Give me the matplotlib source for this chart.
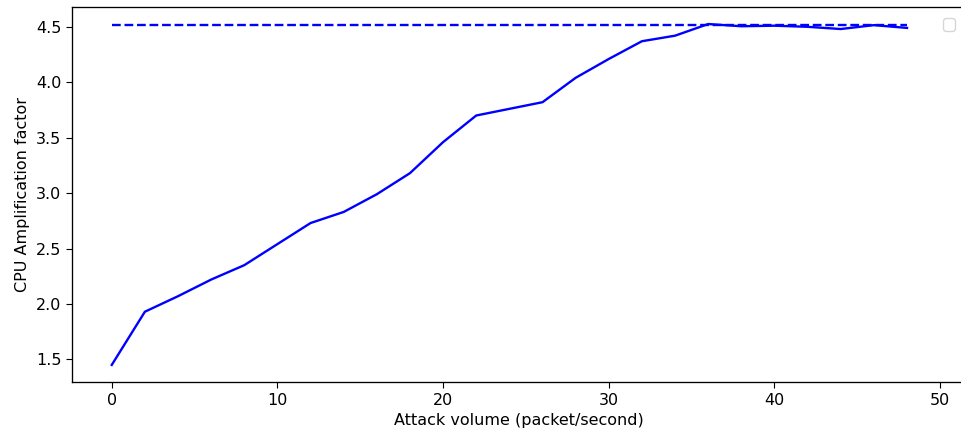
import matplotlib
matplotlib.use("Agg")
import matplotlib.pyplot as plt

plt.rcParams["font.size"] = 11.5
plt.rcParams["xtick.major.size"] = 4.2
plt.rcParams["ytick.major.size"] = 4.2
plt.rcParams["axes.linewidth"] = 0.95

# attack volume (packet/second) and measured CPU amplification
volume = [0, 2, 4, 6, 8, 10, 12, 14, 16, 18, 20, 22, 24,
          26, 28, 30, 32, 34, 36, 38, 40, 42, 44, 46, 48]
amplification = [1.45, 1.93, 2.07, 2.22, 2.35, 2.54, 2.73, 2.83, 2.99, 3.18, 3.46, 3.70, 3.76,
                 3.82, 4.04, 4.21, 4.37, 4.42, 4.525, 4.505, 4.51, 4.50, 4.48, 4.515, 4.49]
# theoretical maximum
max_amplification = 4.515

fig = plt.figure(figsize=(9.61, 4.37), dpi=100)
ax = fig.add_axes([0.0749, 0.1259, 0.9310, 0.8581])

ax.plot(volume, amplification, color="blue", linewidth=1.7)
ax.plot([volume[0], volume[-1]], [max_amplification, max_amplification],
        color="blue", linestyle="--", linewidth=1.7)

ax.set_xlim(-2.4, 51.6)
ax.set_xlabel("Attack volume (packet/second)")
ax.set_ylabel("CPU Amplification factor")
ax.legend(loc="upper right", borderaxespad=0.7)

fig.savefig("out.png", dpi=100)
